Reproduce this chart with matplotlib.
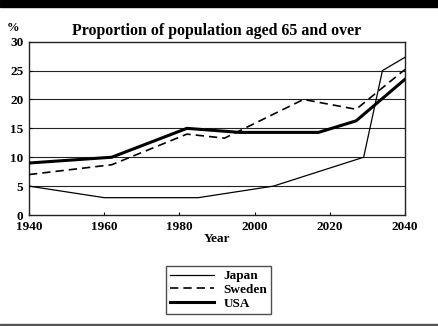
import matplotlib
matplotlib.use("Agg")
import matplotlib.pyplot as plt
from matplotlib.patches import Rectangle

# Share of population aged 65+ (%), projected to 2040
japan_years = [1940, 1960, 1985, 2005, 2029, 2034, 2040]
japan = [5, 3, 3, 5, 10, 25, 27.3]
sweden_years = [1940, 1962, 1982, 1992, 2013, 2027, 2040]
sweden = [7, 8.7, 14, 13.3, 20, 18.3, 25.2]
usa_years = [1940, 1962, 1982, 1996, 2017, 2027, 2040]
usa = [9, 10, 15, 14.3, 14.3, 16.3, 23.5]

x_ticks = [1940, 1960, 1980, 2000, 2020, 2040]
y_ticks = [0, 5, 10, 15, 20, 25, 30]

plt.rcParams["font.family"] = "Liberation Serif"
plt.rcParams["font.weight"] = "bold"

W, H = 438, 326
fig = plt.figure(figsize=(W / 100, H / 100), dpi=100)
fig.patch.set_facecolor("white")

# dark strips top and bottom
fig.patches.append(Rectangle((0, 1 - 7 / H), 1, 7 / H, transform=fig.transFigure,
                             color="black", zorder=0))
fig.patches.append(Rectangle((0, 0), 1, 2 / H, transform=fig.transFigure,
                             color="#555555", zorder=0))

ax = fig.add_axes([29 / W, 1 - 215 / H, 376 / W, (215 - 41.7) / H])

for y in y_ticks[1:-1]:
    ax.axhline(y, color="#222222", lw=0.8, zorder=1)

l1, = ax.plot(japan_years, japan, color="black", lw=0.9, label="Japan", zorder=3)
l2, = ax.plot(sweden_years, sweden, color="black", lw=1.2, ls=(0, (5, 3)),
              label="Sweden", zorder=3)
l3, = ax.plot(usa_years, usa, color="black", lw=2.2, label="USA", zorder=3)

ax.set_xlim(1940, 2040)
ax.set_ylim(0, 30)
ax.set_xticks(x_ticks)
ax.set_yticks(y_ticks)
ax.tick_params(axis="both", direction="in", length=2, width=0.8, labelsize=9.5)
ax.tick_params(axis="x", pad=4.5)
ax.tick_params(axis="y", pad=4)
for s in ax.spines.values():
    s.set_linewidth(1.0)
    s.set_color("#222222")

ax.set_xlabel("Year", fontsize=9.5, fontweight="bold", labelpad=0)
ax.set_title("Proportion of population aged 65 and over", fontsize=11.4,
             fontweight="bold", pad=5)
fig.text(13.5 / W, 1 - 28 / H, "%", fontsize=9, fontweight="bold",
         ha="center", va="center")

leg = fig.legend(handles=[l1, l2, l3], loc="upper left",
                 bbox_to_anchor=(166 / W, 1 - 266 / H), borderaxespad=0,
                 fontsize=9.5, frameon=True, fancybox=False, handlelength=3.3,
                 handletextpad=0.75, labelspacing=0.12, borderpad=0.3)
leg.get_frame().set_edgecolor("#222222")
leg.get_frame().set_linewidth(1.0)

fig.savefig("out.png", dpi=100)
